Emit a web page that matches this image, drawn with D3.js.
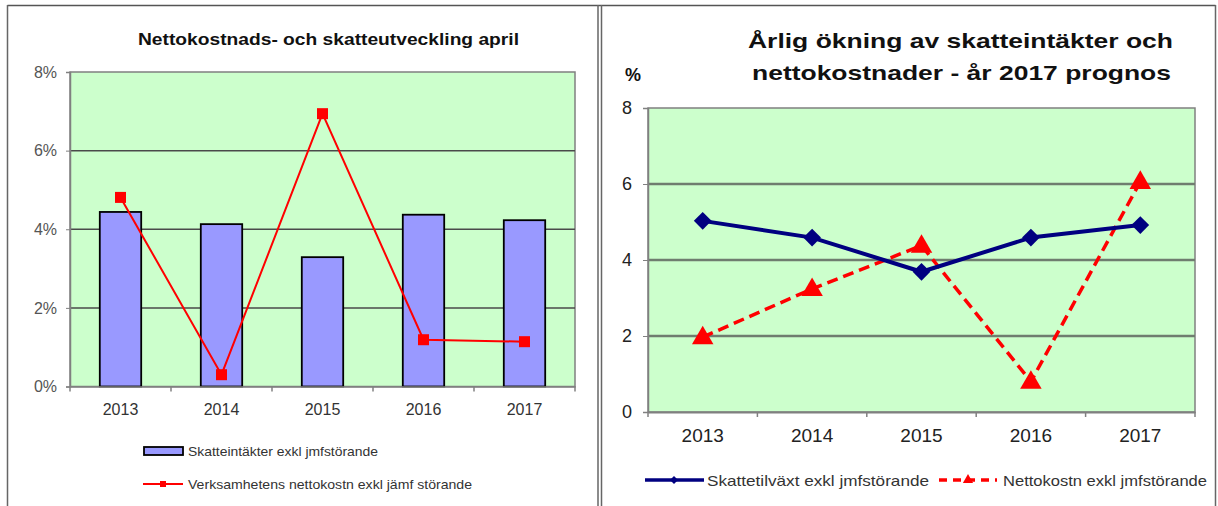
<!DOCTYPE html>
<html>
<head>
<meta charset="utf-8">
<script src="https://cdn.jsdelivr.net/npm/d3@7"></script>
<style>
  body { margin: 0; background: #fff; }
  svg { display: block; font-family: "Liberation Sans", Arial, sans-serif; }
  .axis path, .axis line { stroke: #808080; }
</style>
</head>
<body>
<svg id="chart" width="1218" height="506"></svg>
<script>
// data
var years = ["2013", "2014", "2015", "2016", "2017"];
var skatteintakter = [4.44, 4.13, 3.29, 4.37, 4.23];       // bars, left chart (%)
var verksamhetNetto = [4.81, 0.30, 6.94, 1.19, 1.14];      // red line, left chart (%)
var skattetillvaxt = [5.03, 4.59, 3.69, 4.59, 4.92];       // blue line, right chart
var nettokostnPrognos = [1.97, 3.24, 4.38, 0.80, 6.06];    // red dashed, right chart
var leftTicks = [0, 2, 4, 6, 8];
var rightTicks = [0, 2, 4, 6, 8];

var svg = d3.select("#chart");

// panel frames
svg.append("line").attr("x1", 7.5).attr("x2", 1215.5).attr("y1", 5.5).attr("y2", 5.5)
  .attr("stroke", "#555").attr("stroke-width", 1.5);
[7.5, 598, 601.5, 1215.5].forEach(function(px) {
  svg.append("line").attr("x1", px).attr("x2", px).attr("y1", 5).attr("y2", 506)
    .attr("stroke", "#666").attr("stroke-width", 1.5);
});

function zip(a, b) {
  return a.map(function(d, i) { return [d, b[i]]; });
}

// ---------- left chart ----------
(function() {
  var left = 70, right = 575, top = 72, bottom = 386.5;
  var x = d3.scaleBand().domain(years).range([left, right]).padding(0);
  var y = d3.scaleLinear().domain([0, 8]).range([bottom, top]);
  var g = svg.append("g");

  g.append("rect").attr("x", left).attr("y", top).attr("width", right - left).attr("height", bottom - top)
    .attr("fill", "#ccffcc").attr("stroke", "#808080").attr("stroke-width", 1.5);

  g.selectAll(".grid").data(leftTicks.filter(function(d) { return d > 0 && d < 8; }))
    .enter().append("line")
    .attr("x1", left).attr("x2", right)
    .attr("y1", function(d) { return y(d); }).attr("y2", function(d) { return y(d); })
    .attr("stroke", "#4a4a4a").attr("stroke-width", 1.5);

  var bw = x.bandwidth() * 0.41;
  g.selectAll(".bar").data(zip(years, skatteintakter))
    .enter().append("rect")
    .attr("x", function(d) { return x(d[0]) + x.bandwidth() / 2 - bw / 2; })
    .attr("y", function(d) { return y(d[1]); })
    .attr("width", bw)
    .attr("height", function(d) { return bottom - y(d[1]); })
    .attr("fill", "#9999ff").attr("stroke", "#000").attr("stroke-width", 1.8);

  var yAxis = g.append("g").attr("class", "axis")
    .attr("transform", "translate(" + left + ",0)")
    .call(d3.axisLeft(y).tickValues(leftTicks).tickSize(4).tickPadding(9).tickFormat(function(d) { return d + "%"; }));
  yAxis.select(".domain").attr("stroke-width", 1.5);
  yAxis.selectAll("text").attr("fill", "#555").attr("font-size", "16px");

  var xAxis = g.append("g").attr("class", "axis")
    .attr("transform", "translate(0," + bottom + ")")
    .call(d3.axisBottom(x).tickSize(0).tickPadding(17));
  xAxis.select(".domain").attr("stroke-width", 1.5);
  xAxis.selectAll("text").attr("fill", "#333").attr("font-size", "16px");
  xAxis.selectAll(".bound").data(years.map(function(d) { return x(d); }).concat([right]))
    .enter().append("line").attr("class", "bound")
    .attr("x1", function(d) { return d; }).attr("x2", function(d) { return d; })
    .attr("y1", 0).attr("y2", 5).attr("stroke", "#808080").attr("stroke-width", 1.5);

  var line = d3.line()
    .x(function(d) { return x(d[0]) + x.bandwidth() / 2; })
    .y(function(d) { return y(d[1]); });
  var pts = zip(years, verksamhetNetto);
  g.append("path").datum(pts).attr("d", line)
    .attr("fill", "none").attr("stroke", "#ff0000").attr("stroke-width", 2);
  g.selectAll(".sq").data(pts).enter().append("rect")
    .attr("x", function(d) { return x(d[0]) + x.bandwidth() / 2 - 5.5; })
    .attr("y", function(d) { return y(d[1]) - 5.5; })
    .attr("width", 11).attr("height", 11).attr("fill", "#ff0000");

  g.append("text").attr("x", 138).attr("y", 45)
    .attr("font-size", "16px").attr("font-weight", "bold").attr("fill", "#111")
    .attr("textLength", 381).attr("lengthAdjust", "spacingAndGlyphs")
    .text("Nettokostnads- och skatteutveckling april");

  // legend
  g.append("rect").attr("x", 144).attr("y", 447).attr("width", 39).attr("height", 8)
    .attr("fill", "#9999ff").attr("stroke", "#000").attr("stroke-width", 1.8);
  g.append("text").attr("x", 188).attr("y", 456).attr("font-size", "13px").attr("fill", "#333")
    .attr("textLength", 190).attr("lengthAdjust", "spacingAndGlyphs")
    .text("Skatteintäkter exkl jmfstörande");
  g.append("line").attr("x1", 143).attr("x2", 183).attr("y1", 484).attr("y2", 484)
    .attr("stroke", "#ff0000").attr("stroke-width", 2);
  g.append("rect").attr("x", 160).attr("y", 481).attr("width", 6).attr("height", 6).attr("fill", "#ff0000");
  g.append("text").attr("x", 188).attr("y", 489).attr("font-size", "13px").attr("fill", "#333")
    .attr("textLength", 284).attr("lengthAdjust", "spacingAndGlyphs")
    .text("Verksamhetens nettokostn exkl jämf störande");
})();

// ---------- right chart ----------
(function() {
  var left = 648, right = 1195, top = 108, bottom = 412;
  var x = d3.scaleBand().domain(years).range([left, right]).padding(0);
  var y = d3.scaleLinear().domain([0, 8]).range([bottom, top]);
  var g = svg.append("g");

  g.append("rect").attr("x", left).attr("y", top).attr("width", right - left).attr("height", bottom - top)
    .attr("fill", "#ccffcc").attr("stroke", "#808080").attr("stroke-width", 1.5);

  g.selectAll(".grid").data(rightTicks.filter(function(d) { return d > 0 && d < 8; }))
    .enter().append("line")
    .attr("x1", left).attr("x2", right)
    .attr("y1", function(d) { return y(d); }).attr("y2", function(d) { return y(d); })
    .attr("stroke", "#6f7d6f").attr("stroke-width", 2.5);

  var yAxis = g.append("g").attr("class", "axis")
    .attr("transform", "translate(" + left + ",0)")
    .call(d3.axisLeft(y).tickValues(rightTicks).tickSize(5).tickPadding(11));
  yAxis.select(".domain").attr("stroke-width", 1.5);
  yAxis.selectAll("text").attr("fill", "#222").attr("font-size", "18px");

  var xAxis = g.append("g").attr("class", "axis")
    .attr("transform", "translate(0," + bottom + ")")
    .call(d3.axisBottom(x).tickSize(0).tickPadding(17));
  xAxis.select(".domain").attr("stroke-width", 2);
  xAxis.selectAll("text").attr("fill", "#222").attr("font-size", "19px");
  xAxis.selectAll(".bound").data(years.map(function(d) { return x(d); }).concat([right]))
    .enter().append("line").attr("class", "bound")
    .attr("x1", function(d) { return d; }).attr("x2", function(d) { return d; })
    .attr("y1", 0).attr("y2", 5).attr("stroke", "#808080").attr("stroke-width", 1.5);

  var line = d3.line()
    .x(function(d) { return x(d[0]) + x.bandwidth() / 2; })
    .y(function(d) { return y(d[1]); });

  var red = zip(years, nettokostnPrognos);
  g.append("path").datum(red).attr("d", line)
    .attr("fill", "none").attr("stroke", "#ff0000").attr("stroke-width", 3.5)
    .attr("stroke-dasharray", "11,6");

  var blue = zip(years, skattetillvaxt);
  g.append("path").datum(blue).attr("d", line)
    .attr("fill", "none").attr("stroke", "#000080").attr("stroke-width", 4);

  var diamond = d3.symbol().type(d3.symbolDiamond2).size(200);
  g.selectAll(".dia").data(blue).enter().append("path")
    .attr("d", diamond)
    .attr("transform", function(d) { return "translate(" + (x(d[0]) + x.bandwidth() / 2) + "," + y(d[1]) + ")"; })
    .attr("fill", "#000080");

  var tri = d3.symbol().type(d3.symbolTriangle).size(200);
  g.selectAll(".tri").data(red).enter().append("path")
    .attr("d", tri)
    .attr("transform", function(d) { return "translate(" + (x(d[0]) + x.bandwidth() / 2) + "," + (y(d[1]) + 1) + ")"; })
    .attr("fill", "#ff0000");

  // titles
  g.append("text").attr("x", 748).attr("y", 48)
    .attr("font-size", "21px").attr("font-weight", "bold").attr("fill", "#111")
    .attr("textLength", 425).attr("lengthAdjust", "spacingAndGlyphs")
    .text("Årlig ökning av skatteintäkter och");
  g.append("text").attr("x", 752).attr("y", 80)
    .attr("font-size", "21px").attr("font-weight", "bold").attr("fill", "#111")
    .attr("textLength", 419).attr("lengthAdjust", "spacingAndGlyphs")
    .text("nettokostnader  - år 2017 prognos");
  g.append("text").attr("x", 625).attr("y", 81)
    .attr("font-size", "18px").attr("font-weight", "bold").attr("fill", "#111")
    .text("%");

  // legend
  g.append("line").attr("x1", 645).attr("x2", 704).attr("y1", 480).attr("y2", 480)
    .attr("stroke", "#000080").attr("stroke-width", 3.5);
  g.append("path").attr("d", d3.symbol().type(d3.symbolDiamond2).size(40))
    .attr("transform", "translate(674,480)").attr("fill", "#000080");
  g.append("text").attr("x", 707).attr("y", 486).attr("font-size", "15px").attr("fill", "#333")
    .attr("textLength", 222).attr("lengthAdjust", "spacingAndGlyphs")
    .text("Skattetilväxt exkl jmfstörande");
  g.append("line").attr("x1", 939).attr("x2", 997).attr("y1", 480).attr("y2", 480)
    .attr("stroke", "#ff0000").attr("stroke-width", 3.5).attr("stroke-dasharray", "8,6");
  g.append("path").attr("d", d3.symbol().type(d3.symbolTriangle).size(45))
    .attr("transform", "translate(968,480)").attr("fill", "#ff0000");
  g.append("text").attr("x", 1003).attr("y", 486).attr("font-size", "15px").attr("fill", "#333")
    .attr("textLength", 204).attr("lengthAdjust", "spacingAndGlyphs")
    .text("Nettokostn exkl jmfstörande");
})();
</script>
</body>
</html>
